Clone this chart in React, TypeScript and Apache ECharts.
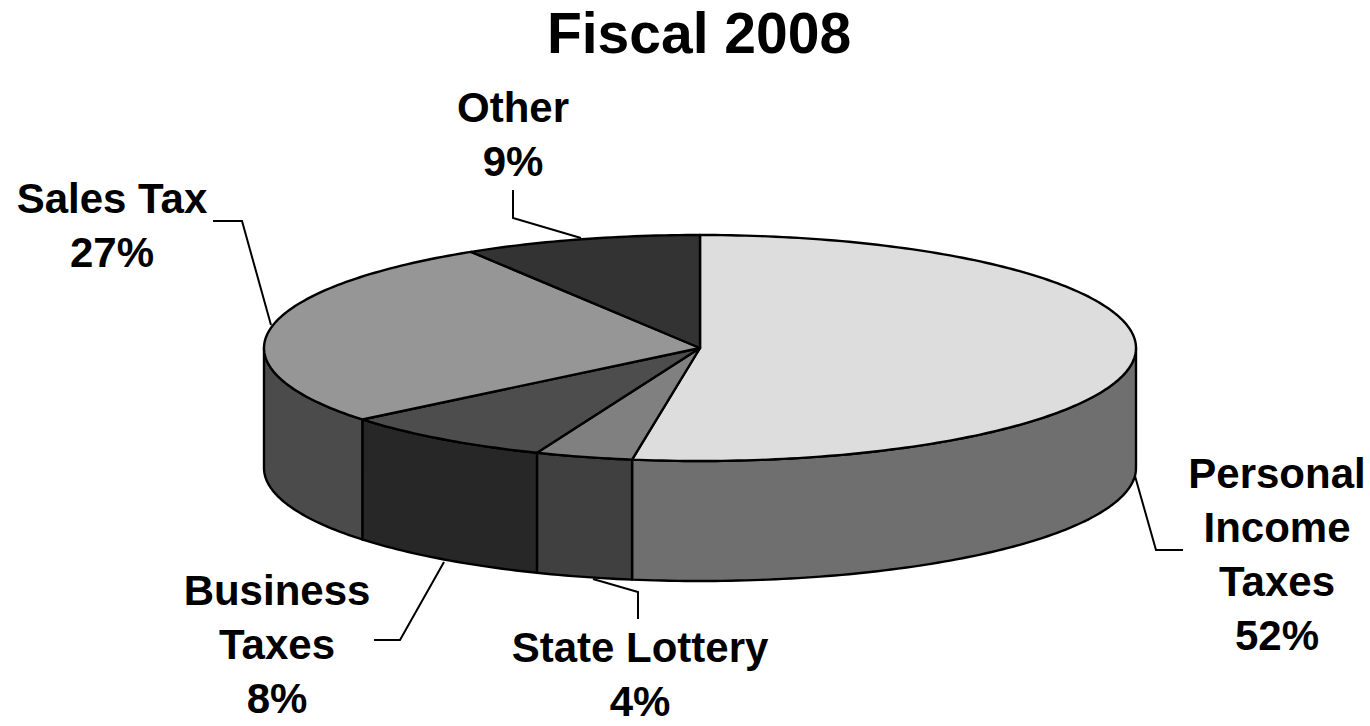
import React, { useEffect, useRef } from "react";
import * as echarts from "echarts";

const categories = ["Personal Income Taxes", "State Lottery", "Business Taxes", "Sales Tax", "Other"];
const shares = [52.49, 3.61, 8.0, 27.1, 8.8];
const topColors = ["#dddddd", "#808080", "#4d4d4d", "#969696", "#333333"];
const sideColors = ["#6f6f6f", "#404040", "#272727", "#4b4b4b", "#1a1a1a"];
const labelLines = [["Personal", "Income", "Taxes"], ["State Lottery"], ["Business", "Taxes"], ["Sales Tax"], ["Other"]];
const labelCentres = [[1277, 473], [640, 647], [277, 590], [112, 198], [513, 107]];
const leaderLines = [
  [[1135, 476], [1156, 550], [1183, 550]],
  [[593, 579], [638, 592], [638, 619]],
  [[444, 562], [400, 640], [374, 640]],
  [[271, 325], [242, 221], [213, 221]],
  [[581, 238], [513, 218], [513, 190]],
];

const CX = 700;
const CY = 348;
const RX = 436;
const RY = 113;
const DEPTH = 120;
const LINE_STEP = 54;

// Clockwise angle from twelve o'clock, projected onto the tilted disc.
const rimPoint = (deg: number, dy = 0) => {
  const a = (deg * Math.PI) / 180;
  return [CX + RX * Math.sin(a), CY - RY * Math.cos(a) + dy];
};

const arcPoints = (from: number, to: number, dy = 0) => {
  const pts: number[][] = [];
  for (let d = from; d < to; d += 1) pts.push(rimPoint(d, dy));
  pts.push(rimPoint(to, dy));
  return pts;
};

const total = shares.reduce((s, v) => s + v, 0);

function renderSlice(params: any, api: any) {
  const i = params.dataIndex;
  const before = shares.slice(0, i).reduce((s, v) => s + v, 0);
  const start = (before / total) * 360;
  const end = ((before + api.value(0)) / total) * 360;
  const edge = { stroke: "#000", lineWidth: 2.4, lineJoin: "round" };
  const children: any[] = [];

  // Only the front half of the wall, between 90 and 270 degrees, can be seen.
  const wallFrom = Math.max(start, 90);
  const wallTo = Math.min(end, 270);
  if (wallTo > wallFrom) {
    children.push({
      type: "polygon",
      z2: 1,
      shape: { points: [...arcPoints(wallFrom, wallTo), ...arcPoints(wallFrom, wallTo, DEPTH).reverse()] },
      style: { fill: sideColors[i], ...edge },
    });
  }
  children.push({
    type: "polygon",
    z2: 2,
    shape: { points: [[CX, CY], ...arcPoints(start, end)] },
    style: { fill: topColors[i], ...edge },
  });
  return { type: "group", children };
}

export default function App() {
  const ref = useRef<HTMLDivElement>(null);

  useEffect(() => {
    document.body.style.margin = "0";
    const chart = echarts.init(ref.current!, null, { renderer: "svg" });
    const font = { fontFamily: "'Liberation Sans', Arial, sans-serif", fontWeight: "bold" as const };

    // Every line of a label is its own tight text box, stepped down from the anchor.
    const labels = categories.flatMap((_, i) =>
      [...labelLines[i], `${Math.round(shares[i])}%`].map((line, row) => ({
        type: "text",
        x: labelCentres[i][0],
        y: labelCentres[i][1] + row * LINE_STEP,
        z: 10,
        silent: true,
        style: {
          text: line,
          fill: "#000",
          fontSize: 42,
          lineHeight: 30,
          align: "center",
          verticalAlign: "middle",
          ...font,
        },
      })),
    );

    const leaders = leaderLines.map((points) => ({
      type: "polyline",
      z: 5,
      silent: true,
      shape: { points },
      style: { stroke: "#000", lineWidth: 2, fill: "none" },
    }));

    chart.setOption({
      animation: false,
      backgroundColor: "#fff",
      title: {
        text: "Fiscal 2008",
        left: 694,
        top: -1,
        textAlign: "center",
        textStyle: { fontSize: 57, color: "#000", ...font },
      },
      series: [
        {
          type: "custom",
          coordinateSystem: "none",
          silent: true,
          renderItem: renderSlice,
          data: shares.map((v) => [v]),
        },
      ],
      graphic: [...leaders, ...labels],
    });
    return () => chart.dispose();
  }, []);

  return <div ref={ref} style={{ position: "absolute", left: 0, top: 0, width: 1370, height: 726 }} />;
}
